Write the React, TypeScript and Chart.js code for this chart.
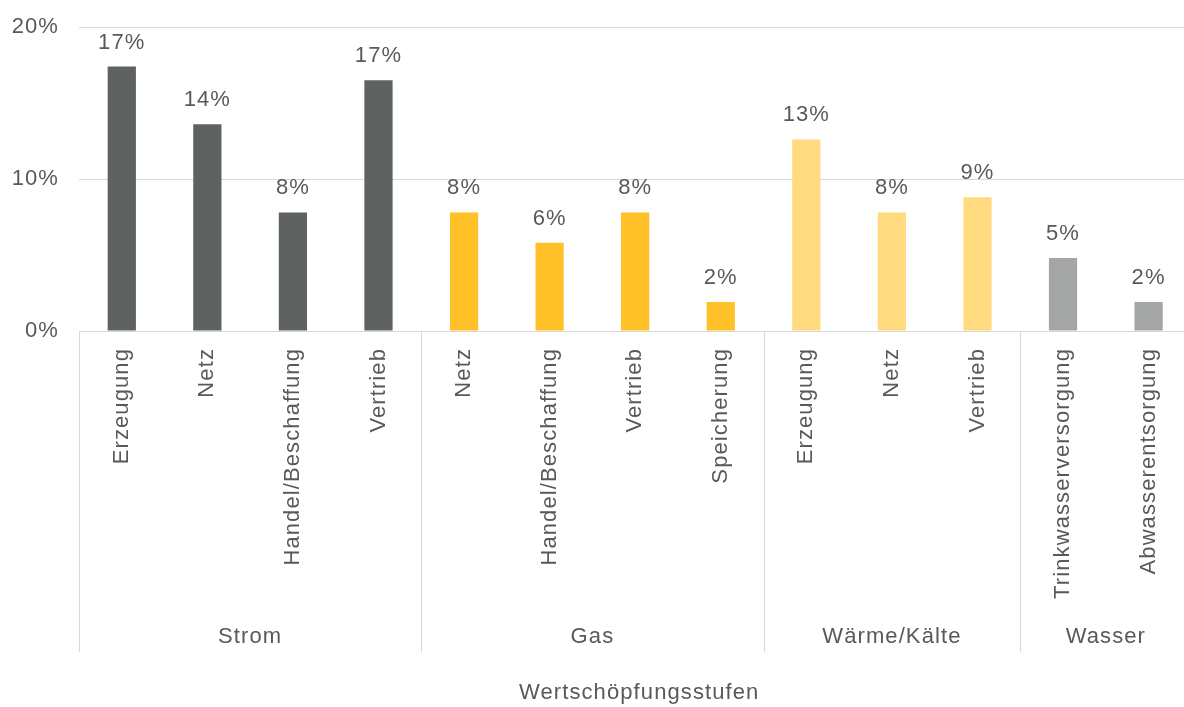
import React, { useEffect, useRef } from "react";
import { Chart, registerables } from "chart.js";

Chart.register(...registerables);

const categories = [
  "Erzeugung", "Netz", "Handel/Beschaffung", "Vertrieb",
  "Netz", "Handel/Beschaffung", "Vertrieb", "Speicherung",
  "Erzeugung", "Netz", "Vertrieb",
  "Trinkwasserversorgung", "Abwasserentsorgung",
];
const values = [17.4, 13.6, 7.8, 16.5, 7.8, 5.8, 7.8, 1.9, 12.6, 7.8, 8.8, 4.8, 1.9];
const valueLabels = ["17%", "14%", "8%", "17%", "8%", "6%", "8%", "2%", "13%", "8%", "9%", "5%", "2%"];
const groupNames = ["Strom", "Gas", "Wärme/Kälte", "Wasser"];
const groupSizes = [4, 4, 3, 2];
const groupColors = ["#5E6361", "#FFC127", "#FFDA7E", "#A3A6A5"];
const yTicks = [0, 10, 20];
const axisTitle = "Wertschöpfungsstufen";

const TEXT = "#595959";
const FONT = "'Liberation Sans', Arial, sans-serif";
const SIZE = 22;
const SPACING = "1.1px";

export default function App() {
  const ref = useRef<HTMLCanvasElement | null>(null);

  useEffect(() => {
    if (!ref.current) return;
    const colors: string[] = [];
    groupSizes.forEach((n, g) => {
      for (let i = 0; i < n; i++) colors.push(groupColors[g]);
    });

    const groupPlugin = {
      id: "groupAxis",
      beforeInit(chart: any) {
        (chart.ctx as any).letterSpacing = SPACING;
      },
      beforeUpdate(chart: any) {
        (chart.ctx as any).letterSpacing = SPACING;
      },
      beforeDraw(chart: any) {
        (chart.ctx as any).letterSpacing = SPACING;
      },
      afterDraw(chart: any) {
        const { ctx, chartArea } = chart;
        const xs = chart.scales.x;
        const half = (xs.getPixelForValue(1) - xs.getPixelForValue(0)) / 2;
        ctx.save();
        ctx.strokeStyle = "#D9D9D9";
        ctx.lineWidth = 1;
        let idx = 0;
        const bounds: number[] = [xs.getPixelForValue(0) - half];
        groupSizes.forEach((n) => {
          idx += n;
          bounds.push(xs.getPixelForValue(idx - 1) + half);
        });
        bounds.forEach((bx) => {
          const px = Math.round(bx) + 0.5;
          ctx.beginPath();
          ctx.moveTo(px, chartArea.bottom);
          ctx.lineTo(px, xs.bottom - 55);
          ctx.stroke();
        });
        ctx.fillStyle = TEXT;
        ctx.font = `${SIZE}px ${FONT}`;
        (ctx as any).letterSpacing = SPACING;
        ctx.textAlign = "center";
        ctx.textBaseline = "middle";
        groupNames.forEach((name, g) => {
          ctx.fillText(name, (bounds[g] + bounds[g + 1]) / 2, xs.bottom - 70);
        });
        ctx.fillText(axisTitle, (xs.left + xs.right) / 2 + 4, xs.bottom - 14);
        ctx.restore();
      },
      afterDatasetsDraw(chart: any) {
        const { ctx } = chart;
        const meta = chart.getDatasetMeta(0);
        ctx.save();
        ctx.fillStyle = TEXT;
        ctx.font = `${SIZE}px ${FONT}`;
        (ctx as any).letterSpacing = SPACING;
        ctx.textAlign = "center";
        ctx.textBaseline = "alphabetic";
        meta.data.forEach((bar: any, i: number) => {
          ctx.fillText(valueLabels[i], bar.x, bar.y - 18);
        });
        ctx.restore();
      },
    };

    const chart = new Chart(ref.current, {
      type: "bar",
      data: {
        labels: categories,
        datasets: [
          {
            data: values,
            backgroundColor: colors,
            borderWidth: 0,
            categoryPercentage: 1,
            barPercentage: 0.33,
          },
        ],
      },
      options: {
        animation: false,
        responsive: true,
        maintainAspectRatio: false,
        layout: { padding: { top: 27, left: 0, right: 0, bottom: 0 } },
        plugins: {
          legend: { display: false },
          tooltip: { enabled: false },
        },
        scales: {
          x: {
            grid: { display: false, drawTicks: false },
            border: { display: false },
            ticks: {
              autoSkip: false,
              minRotation: 90,
              maxRotation: 90,
              padding: 17,
              color: TEXT,
              font: { family: FONT, size: SIZE },
            },
            title: { display: false, text: axisTitle },
            afterFit(scale: any) {
              scale.height = 376;
            },
          },
          y: {
            min: 0,
            max: 20,
            afterBuildTicks(scale: any) {
              scale.ticks = yTicks.map((v) => ({ value: v }));
            },
            grid: { color: "#D9D9D9", drawTicks: false, lineWidth: 1 },
            border: { display: false },
            ticks: {
              padding: 20,
              color: TEXT,
              font: { family: FONT, size: SIZE },
              callback: (v: any) => `${v}%`,
            },
            afterFit(scale: any) {
              scale.width = 79;
              scale.paddingTop = 0;
              scale.paddingBottom = 0;
            },
          },
        },
      },
      plugins: [groupPlugin],
    });
    return () => chart.destroy();
  }, []);

  return (
    <div style={{ position: "absolute", left: 0, top: 0, width: 1184, height: 707, overflow: "hidden", background: "#fff" }}>
      <div style={{ position: "relative", width: 1192, height: 707 }}>
        <canvas ref={ref} />
      </div>
    </div>
  );
}
